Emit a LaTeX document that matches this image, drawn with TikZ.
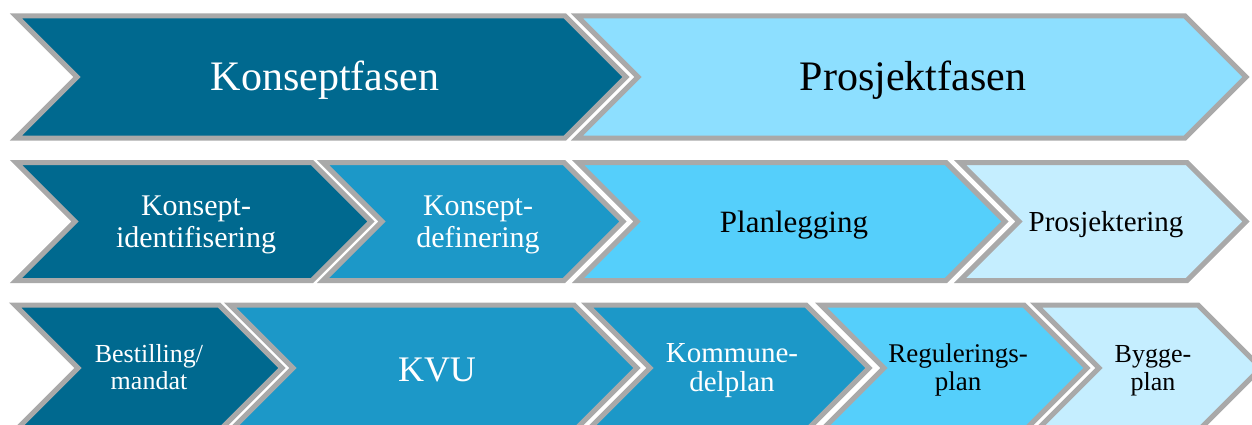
\documentclass[tikz,border=0pt]{standalone}
\usepackage{fontspec}
\setmainfont{Liberation Serif}
\definecolor{cdark}{HTML}{00698F}
\definecolor{cmid}{HTML}{1C98C8}
\definecolor{cplan}{HTML}{55CFFB}
\definecolor{cproj}{HTML}{8DDFFF}
\definecolor{clight}{HTML}{C5EEFF}
\definecolor{cborder}{HTML}{A9A9A9}
\newcommand\twoln[2]{\begin{tabular}[t]{@{}c@{}}#1\\#2\end{tabular}}
% #1 fill, #2 left x, #3 right x, #4 centre y, #5 half height
\newcommand\chevron[5]{%
  \filldraw[chev, fill=#1] (#2,#4-#5) -- (#3,#4-#5) -- (#3+#5,#4) -- (#3,#4+#5)
    -- (#2,#4+#5) -- (#2+#5,#4) -- cycle;}
\tikzset{
  chev/.style={draw=cborder, line width=5pt, line join=miter},
  lbl/.style={inner sep=0pt, anchor=base, align=center},
  wt/.style={lbl, text=white},
  bk/.style={lbl, text=black},
}
\begin{document}
\begin{tikzpicture}[x=1pt, y=-1pt]
\useasboundingbox (0,0) rectangle (1252,425);
\clip (0,0) rectangle (1252,425);
% row 1
\chevron{cdark}{16}{565}{77}{61}
\chevron{cproj}{577}{1185}{77}{61}
\node[wt, font=\fontsize{42}{46}\selectfont] (konseptfasen) at (325,91) {Konseptfasen};
\node[bk, font=\fontsize{42}{46}\selectfont] (prosjektfasen) at (913,91) {Prosjektfasen};
% row 2
\chevron{cdark}{16}{312}{221.5}{59}
\chevron{cmid}{323}{564}{221.5}{59}
\chevron{cplan}{578}{946}{221.5}{59}
\chevron{clight}{960}{1187}{221.5}{59}
\node[wt, font=\fontsize{30}{32}\selectfont] (kid) at (196,215) {\twoln{Konsept-}{identifisering}};
\node[wt, font=\fontsize{30}{32}\selectfont] (kdef) at (478,215) {\twoln{Konsept-}{definering}};
\node[bk, font=\fontsize{31}{33}\selectfont] (plan) at (794,232) {Planlegging};
\node[bk, font=\fontsize{29}{31}\selectfont] (prosj) at (1106,231) {Prosjektering};
% row 3
\chevron{cdark}{15}{219}{368}{63}
\chevron{cmid}{230}{574}{368}{63}
\chevron{cmid}{587}{806}{368}{63}
\chevron{cplan}{821}{1024}{368}{63}
\chevron{clight}{1036}{1198}{368}{63}
\node[wt, font=\fontsize{26}{27}\selectfont] (best) at (149,362) {\twoln{Bestilling/}{mandat}};
\node[wt, font=\fontsize{36}{38}\selectfont] (kvu) at (437,381) {KVU};
\node[wt, font=\fontsize{29}{29}\selectfont] (kdp) at (732,362) {\twoln{Kommune-}{delplan}};
\node[bk, font=\fontsize{27}{28}\selectfont] (reg) at (958,362) {\twoln{Regulerings-}{plan}};
\node[bk, font=\fontsize{26}{28}\selectfont] (bygg) at (1153,362) {\twoln{Bygge-}{plan}};
\end{tikzpicture}
\end{document}
